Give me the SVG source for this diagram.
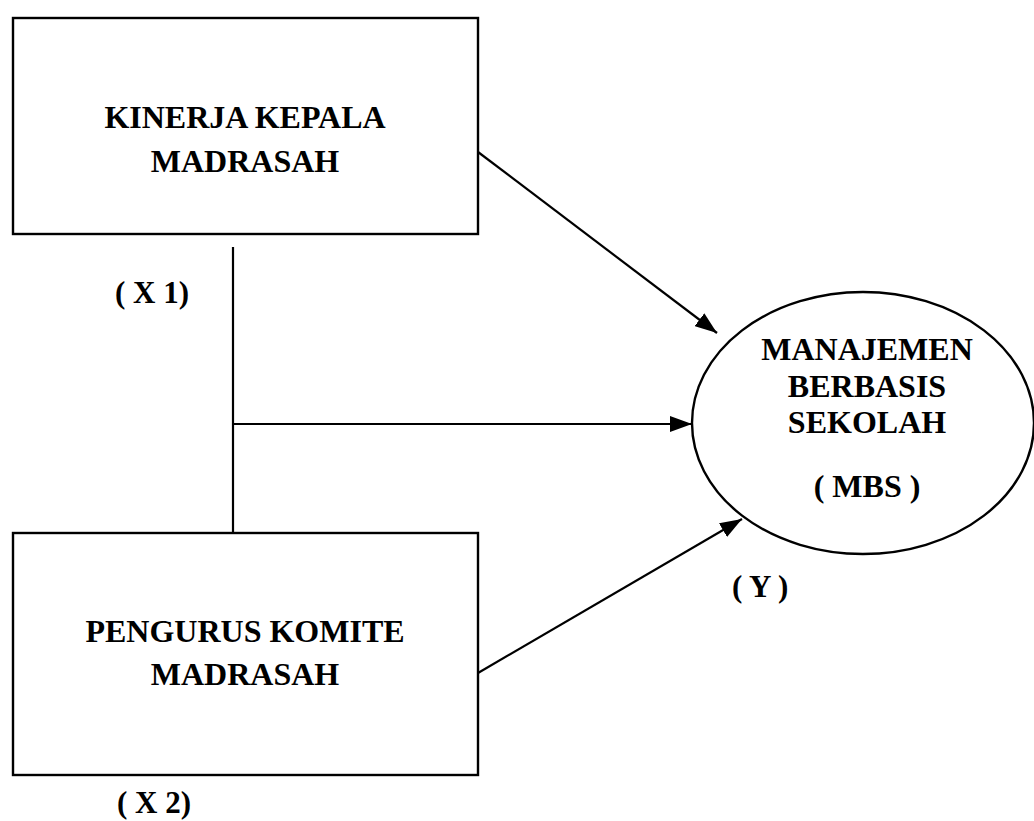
<svg xmlns="http://www.w3.org/2000/svg" width="1034" height="821" viewBox="0 0 1034 821">
<style>
.box{fill:#fff;stroke:#000;stroke-width:2.4}
.t{font-family:"Liberation Serif","Times New Roman",serif;font-weight:bold;font-size:32px;fill:#000;text-anchor:middle}
.l{font-family:"Liberation Serif","Times New Roman",serif;font-weight:bold;font-size:31px;fill:#000}
.c{stroke:#000;stroke-width:2.2;fill:none}
</style>
<defs>
<marker id="ah" markerUnits="userSpaceOnUse" markerWidth="22" markerHeight="16" refX="22" refY="8" orient="auto">
<path d="M0,0 L22,8 L0,16 Z" fill="#000"/>
</marker>
</defs>
<rect width="1034" height="821" fill="#fff"/>
<g id="connectors">
<line class="c" x1="233" y1="247" x2="233" y2="533"/>
<line class="c" x1="233" y1="424" x2="692" y2="424" marker-end="url(#ah)"/>
<line class="c" x1="478" y1="152" x2="717" y2="333" marker-end="url(#ah)"/>
<line class="c" x1="478" y1="673" x2="742" y2="519" marker-end="url(#ah)"/>
</g>
<g id="node-x1">
<rect class="box" x="13" y="18" width="465" height="216"/>
<text class="t" x="245" y="128">KINERJA KEPALA</text>
<text class="t" x="245" y="172">MADRASAH</text>
<text class="l" x="115" y="303">( X 1)</text>
</g>
<g id="node-x2">
<rect class="box" x="13" y="533" width="465" height="242"/>
<text class="t" x="245" y="642">PENGURUS KOMITE</text>
<text class="t" x="245" y="685">MADRASAH</text>
<text class="l" x="117" y="813">( X 2)</text>
</g>
<g id="node-y">
<ellipse class="box" cx="863" cy="423" rx="171" ry="131"/>
<text class="t" x="867" y="360">MANAJEMEN</text>
<text class="t" x="867" y="397">BERBASIS</text>
<text class="t" x="867" y="433">SEKOLAH</text>
<text class="t" x="867" y="497">( MBS )</text>
<text class="l" x="732" y="597">( Y )</text>
</g>
</svg>
